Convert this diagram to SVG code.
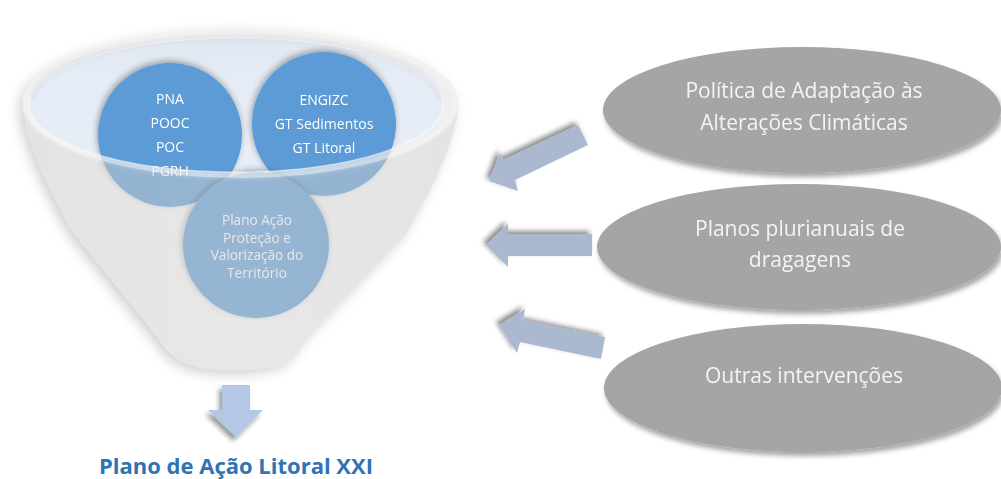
<svg xmlns="http://www.w3.org/2000/svg" width="1001" height="479" viewBox="0 0 1001 479">
  <defs>
    <style>
      .t { font-family: "Open Sans", "Noto Sans", sans-serif; text-anchor: middle; }
      .ct { font-size: 14px; fill: #ffffff; }
      .bt { font-size: 13.6px; fill: #ffffff; }
      .et { font-size: 21px; fill: #f4f4f4; }
      .title { font-size: 22px; font-weight: bold; fill: #2e74b5; }
      .circle { fill: #5b9bd5; }
      .oval { fill: #a5a5a5; }
      .arrow { fill: #aab9cf; }
    </style>
    <filter id="shUL" x="-30%" y="-30%" width="160%" height="160%">
      <feDropShadow dx="-3" dy="-3" stdDeviation="2.5" flood-color="#000" flood-opacity="0.45"/>
    </filter>
    <filter id="shDR" x="-10%" y="-20%" width="120%" height="150%">
      <feDropShadow dx="2" dy="4" stdDeviation="2.5" flood-color="#000" flood-opacity="0.35"/>
    </filter>
    <filter id="shDL" x="-40%" y="-30%" width="180%" height="170%">
      <feDropShadow dx="-3" dy="4" stdDeviation="2.5" flood-color="#000" flood-opacity="0.4"/>
    </filter>
    <filter id="shC" x="-20%" y="-20%" width="140%" height="140%">
      <feDropShadow dx="-1" dy="-2" stdDeviation="3" flood-color="#000" flood-opacity="0.35"/>
    </filter>
    <filter id="blur6" x="-10%" y="-10%" width="120%" height="120%">
      <feGaussianBlur stdDeviation="6"/>
    </filter>
    <filter id="blur2" x="-5%" y="-10%" width="110%" height="120%">
      <feGaussianBlur stdDeviation="2"/>
    </filter>
    <linearGradient id="bodyG" x1="0" y1="0" x2="1" y2="0">
      <stop offset="0" stop-color="#c8c8c8"/>
      <stop offset="0.5" stop-color="#d0d0d2"/>
      <stop offset="1" stop-color="#c8c8c8"/>
    </linearGradient>
    <linearGradient id="mouthG" x1="0" y1="0" x2="0" y2="1">
      <stop offset="0" stop-color="#e1e7f0"/>
      <stop offset="0.3" stop-color="#e5ecf6"/>
      <stop offset="1" stop-color="#e8eef7"/>
    </linearGradient>
  </defs>

  <rect width="1001" height="479" fill="#ffffff"/>

  <!-- Funnel back: shadow, white underlay, mouth -->
  <g id="funnel-back">
    <path d="M 23,103 A 217.5,75 0 0 1 458,103 C 458,135 435,185 405,235 L 305,340 Q 295,360 280,366 Q 240,374 200,368 Q 172,362 158,338 L 75,235 C 45,185 23,135 23,103 Z" fill="#9a9a9a" opacity="0.45" transform="translate(-4,4)" filter="url(#blur6)"/>
    <path d="M 23,103 A 217.5,75 0 0 1 458,103 C 458,135 435,185 405,235 L 305,340 Q 295,360 280,366 Q 240,374 200,368 Q 172,362 158,338 L 75,235 C 45,185 23,135 23,103 Z" fill="#ffffff"/>
    <ellipse cx="236" cy="105" rx="207" ry="67" fill="url(#mouthG)"/>
  </g>

  <!-- Circles -->
  <g id="node-pna" filter="url(#shC)">
    <circle class="circle" cx="170" cy="135" r="72"/>
    <text class="t ct" x="170" y="104">PNA</text>
    <text class="t ct" x="170" y="128">POOC</text>
    <text class="t ct" x="170" y="152">POC</text>
    <text class="t ct" x="170" y="176">PGRH</text>
  </g>
  <g id="node-engizc" filter="url(#shC)">
    <circle class="circle" cx="324" cy="124" r="72"/>
    <text class="t ct" x="324" y="105">ENGIZC</text>
    <text class="t ct" x="324" y="129">GT Sedimentos</text>
    <text class="t ct" x="324" y="153">GT Litoral</text>
  </g>
  <g id="node-plano-acao" filter="url(#shC)">
    <circle class="circle" cx="256" cy="245" r="73"/>
    <text class="t bt" x="257" y="225">Plano Ação</text>
    <text class="t bt" x="257" y="242.5">Proteção e</text>
    <text class="t bt" x="257" y="260">Valorização do</text>
    <text class="t bt" x="257" y="277.5">Território</text>
  </g>

  <!-- Funnel front (semi-transparent body with open mouth) -->
  <g id="funnel-front">
    <path fill-rule="evenodd" fill="url(#bodyG)" opacity="0.5" d="M 23,103 A 217.5,75 0 0 1 458,103 C 458,135 435,185 405,235 L 305,340 Q 295,360 280,366 Q 240,374 200,368 Q 172,362 158,338 L 75,235 C 45,185 23,135 23,103 Z M 29,105 A 207,67 0 1 0 443,105 A 207,67 0 1 0 29,105 Z"/>
    <path fill-rule="evenodd" fill="#ffffff" opacity="0.4" d="M 23,103 A 217.5,75 0 1 0 458,103 A 217.5,75 0 1 0 23,103 Z M 29,105 A 207,67 0 1 0 443,105 A 207,67 0 1 0 29,105 Z"/>
    <ellipse cx="240.5" cy="103" rx="216" ry="73.5" fill="none" stroke="#ffffff" stroke-width="2" opacity="0.5" filter="url(#blur2)"/>
    <ellipse cx="236" cy="105" rx="207" ry="67" fill="none" stroke="#ffffff" stroke-width="1.5" opacity="0.45"/>
    <path d="M 33,100 A 203,63 0 0 1 439,100" fill="none" stroke="#b8bcc4" stroke-width="3" opacity="0.35" filter="url(#blur2)"/>
  </g>

  <!-- Right ovals -->
  <g id="node-politica" filter="url(#shDR)">
    <ellipse class="oval" cx="802" cy="110" rx="199" ry="63"/>
    <text class="t et" x="804" y="98">Política de Adaptação às</text>
    <text class="t et" x="804" y="130">Alterações Climáticas</text>
  </g>
  <g id="node-planos" filter="url(#shDR)">
    <ellipse class="oval" cx="799" cy="247" rx="202" ry="63"/>
    <text class="t et" x="800" y="236">Planos plurianuais de</text>
    <text class="t et" x="800" y="267">dragagens</text>
  </g>
  <g id="node-outras" filter="url(#shDR)">
    <ellipse class="oval" cx="803" cy="388" rx="199" ry="64"/>
    <text class="t et" x="804" y="383">Outras intervenções</text>
  </g>

  <!-- Connectors -->
  <g id="connectors">
    <polygon class="arrow" filter="url(#shUL)" points="578,125 588,145 515,180 518,191 489,181 500,153 503,160"/>
    <polygon class="arrow" filter="url(#shUL)" points="592,234 508,234 508,224 486,245 508,267 508,256 592,256"/>
    <polygon class="arrow" filter="url(#shUL)" points="605,337 601,359 520,342 517,353 499,325 525,309 523,320"/>
    <polygon fill="#b4c8e6" filter="url(#shDL)" points="222,385 250,385 250,410 263,410 236,437 208,410 222,410"/>
  </g>

  <!-- Result title -->
  <g id="node-result">
    <text class="t title" x="236" y="474">Plano de Ação Litoral XXI</text>
  </g>
</svg>
